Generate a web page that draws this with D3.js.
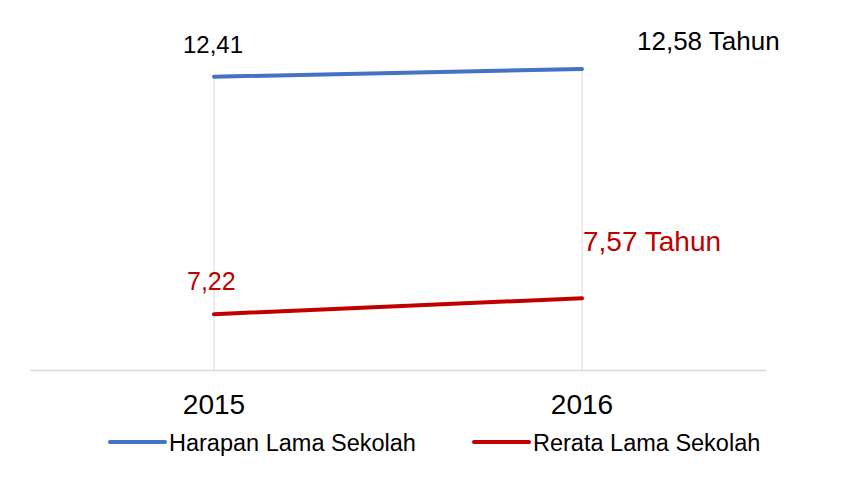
<!DOCTYPE html>
<html lang="id">
<head>
<meta charset="utf-8">
<title>Harapan dan Rerata Lama Sekolah</title>
<script src="https://cdn.jsdelivr.net/npm/d3@7/dist/d3.min.js"></script>
<style>
  body { margin: 0; background: #fff; }
  svg text { font-family: "Liberation Sans", Arial, sans-serif; }
</style>
</head>
<body>
<script>
// data
var years = ["2015", "2016"];
var harapan = [12.41, 12.58];
var rerata = [7.22, 7.57];
var seriesNames = ["Harapan Lama Sekolah", "Rerata Lama Sekolah"];
var labelTexts = [["12,41", "12,58 Tahun"], ["7,22", "7,57 Tahun"]];

var w = 854, h = 477;
var colors = ["#4472C4", "#C00000"];
var textColors = ["#000000", "#C00000"];

// label placement relative to the point (dx, dy, font size)
var labelStyle = [
  [{dx: -31, dy: -24, size: 24}, {dx: 55, dy: -19, size: 26}],
  [{dx: -27, dy: -24, size: 25}, {dx: 1, dy: -47, size: 28}]
];

var svg = d3.select("body").append("svg")
  .attr("width", w)
  .attr("height", h);

var x = d3.scaleBand().domain(years).range([30, 766]);
var cx = function(d) { return x(d) + x.bandwidth() / 2; };
var y = d3.scaleLinear().domain([6, 14]).range([370, 4]);

var series = [harapan, rerata];

// drop lines from top series down to the axis
svg.selectAll("line.drop")
  .data(years)
  .enter()
  .append("line")
  .attr("class", "drop")
  .attr("x1", function(d) { return cx(d); })
  .attr("x2", function(d) { return cx(d); })
  .attr("y1", function(d, i) { return y(d3.max(series, function(s) { return s[i]; })); })
  .attr("y2", y(6))
  .attr("stroke", "#d9d9d9")
  .attr("stroke-width", 1);

// x axis baseline + labels
var xAxis = d3.axisBottom(x).tickSize(0).tickPadding(24);
var gx = svg.append("g")
  .attr("transform", "translate(0," + y(6) + ")")
  .call(xAxis);
gx.select(".domain").attr("stroke", "#d9d9d9").attr("stroke-width", 1.3);
gx.selectAll("text")
  .attr("font-size", 28)
  .attr("fill", "#000")
  .attr("font-family", "Liberation Sans, Arial, sans-serif");

var line = d3.line()
  .x(function(d, i) { return cx(years[i]); })
  .y(function(d) { return y(d); });

svg.selectAll("path.series")
  .data(series)
  .enter()
  .append("path")
  .attr("class", "series")
  .attr("d", line)
  .attr("fill", "none")
  .attr("stroke", function(d, i) { return colors[i]; })
  .attr("stroke-width", 4)
  .attr("stroke-linecap", "round");

// data labels
series.forEach(function(s, si) {
  svg.selectAll("text.lbl" + si)
    .data(s)
    .enter()
    .append("text")
    .attr("class", "lbl" + si)
    .attr("x", function(d, i) { return cx(years[i]) + labelStyle[si][i].dx; })
    .attr("y", function(d, i) { return y(d) + labelStyle[si][i].dy; })
    .attr("font-size", function(d, i) { return labelStyle[si][i].size; })
    .attr("fill", textColors[si])
    .text(function(d, i) { return labelTexts[si][i]; });
});

// legend
var legendX = [110, 474];
var legend = svg.selectAll("g.legend")
  .data(seriesNames)
  .enter()
  .append("g")
  .attr("class", "legend")
  .attr("transform", function(d, i) { return "translate(" + legendX[i] + ",442)"; });

legend.append("line")
  .attr("x1", 0).attr("x2", 55)
  .attr("y1", 0).attr("y2", 0)
  .attr("stroke", function(d, i) { return colors[i]; })
  .attr("stroke-width", 4)
  .attr("stroke-linecap", "round");

legend.append("text")
  .attr("x", 59)
  .attr("y", 9)
  .attr("font-size", 23.5)
  .attr("fill", "#000")
  .text(function(d) { return d; });
</script>
</body>
</html>
